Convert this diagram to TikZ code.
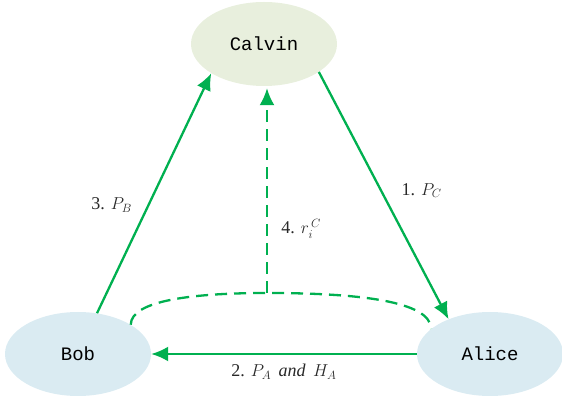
\documentclass[tikz,border=0pt]{standalone}
\usepackage{fontspec}
\setmainfont{Liberation Serif}
\setmonofont{Liberation Mono}
\usepackage{tikz}
\usetikzlibrary{arrows.meta,shapes.geometric}
\definecolor{linkgreen}{RGB}{0,176,80}
\definecolor{partygreen}{RGB}{232,239,221}
\definecolor{partyblue}{RGB}{218,235,242}
\definecolor{labelgray}{RGB}{40,40,40}
\tikzset{
  party/.style = {
    ellipse,
    draw=none,
    align=center,
    minimum width=146pt,
    minimum height=84pt,
    font=\fontsize{19}{21}\selectfont\ttfamily
  },
  sendlink/.style = {
    -{Latex[length=17pt,width=15pt]},
    draw=linkgreen,
    fill=none,
    line width=2.3pt
  },
  replylink/.style = {
    sendlink,
    dash pattern=on 12pt off 7pt
  },
  msglabel/.style = {
    text=labelgray,
    font=\fontsize{18}{20}\selectfont
  }
}

\begin{document}
\begin{tikzpicture}[x=1pt,y=1pt]
    \useasboundingbox (0,0) rectangle (562,401);
    \node[party, fill=partygreen] (calvin) at (264,357) {Calvin};
    \node[party, fill=partyblue] (bob) at (78,47) {Bob};
    \node[party, fill=partyblue] (alice) at (490,47) {Alice};
    \coordinate (rtop) at (267,108);
    \draw[sendlink] (bob.65) -- node[msglabel, left=12pt, pos=0.45] {3. $P_B$} (calvin.209);
    \draw[sendlink] (calvin.-27) -- node[msglabel, right=16pt, pos=0.48] {1. $P_C$} (alice.140);
    \draw[sendlink] (alice.west) -- node[msglabel, below=6pt] {2. $P_A$ \,\textit{and}\, $H_A$} (bob.east);
    \draw[replylink, -] (bob.29) .. controls +(0,25) and +(-70,0) .. (rtop)
      .. controls +(90,0) and +(0,28) .. (alice.157);
    \draw[replylink, shorten >=2pt] (rtop) -- node[msglabel, right=10pt, pos=0.31] {4. $r_{i}^{\,C}$} (rtop |- calvin.south);
  \end{tikzpicture}
\end{document}
